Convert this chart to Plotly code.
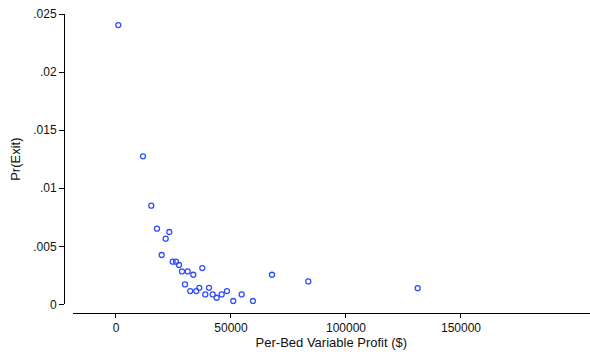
import plotly.graph_objects as go

profit = [1000, 11740, 15350, 17830, 23170, 21610, 19870, 24650, 26090, 27390,
          28700, 31170, 33610, 37520, 30000, 32300, 34910, 36220, 40440, 38830,
          42040, 43780, 45960, 48260, 51000, 54650, 59570, 67830, 83610, 131180]
pr_exit = [0.02405, 0.01275, 0.0085, 0.00652, 0.00623, 0.00566, 0.00425, 0.00368, 0.00368, 0.00339,
           0.00284, 0.00284, 0.00255, 0.00313, 0.00172, 0.00115, 0.00115, 0.00143, 0.00143, 0.00086,
           0.00086, 0.00057, 0.00086, 0.00115, 0.00029, 0.00086, 0.00029, 0.00255, 0.00198, 0.0014]

x_ticks = [0, 50000, 100000, 150000]
x_labels = ["0", "50000", "100000", "150000"]
y_ticks = [0, 0.005, 0.01, 0.015, 0.02, 0.025]
y_labels = ["0", ".005", ".01", ".015", ".02", ".025"]

font = dict(family="Liberation Sans, Arial, sans-serif", size=12, color="#111111")
tfont = dict(family="Liberation Sans, Arial, sans-serif", size=13, color="#111111")

fig = go.Figure(go.Scatter(
    x=profit, y=pr_exit, mode="markers",
    marker=dict(symbol="circle-open", size=5, color="#2f4cff", line=dict(width=1.3, color="#2f4cff")),
    showlegend=False,
))

fig.update_layout(
    width=590, height=354,
    margin=dict(l=64, r=0, t=14, b=41),
    paper_bgcolor="white", plot_bgcolor="white",
    font=font,
    xaxis=dict(
        domain=[0.0165, 1], range=[-18830, 206100],
        anchor="free", position=0,
        showline=True, linecolor="black", linewidth=1,
        showgrid=False, zeroline=False,
        tickmode="array", tickvals=x_ticks, ticktext=x_labels,
        ticks="outside", ticklen=4, tickwidth=1, tickcolor="black",
        title=dict(text="Per-Bed Variable Profit ($)", font=tfont, standoff=2),
    ),
    yaxis=dict(
        domain=[0.0288, 1], range=[0, 0.025],
        anchor="free", position=0,
        showline=True, linecolor="black", linewidth=1,
        showgrid=False, zeroline=False,
        tickmode="array", tickvals=y_ticks, ticktext=y_labels,
        ticks="outside", ticklen=5, tickwidth=1, tickcolor="black",
        title=dict(text="Pr(Exit)", font=tfont, standoff=8),
    ),
)

fig.write_html("out.html")
